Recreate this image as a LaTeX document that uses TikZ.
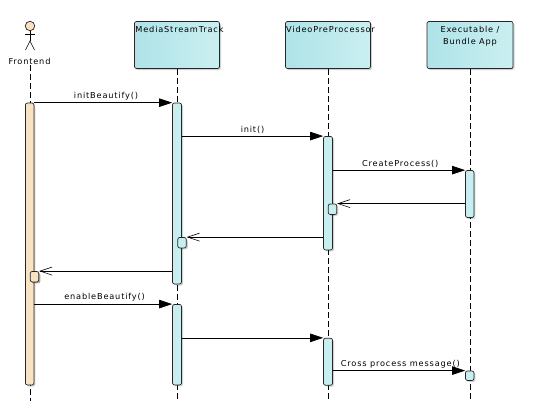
\documentclass[tikz,border=0pt]{standalone}
\usepackage{fontspec}
\setmainfont[LetterSpace=10]{DejaVu Sans}
\usepackage{xcolor}
\usetikzlibrary{positioning, arrows.meta, calc, shadows}
\definecolor{tealleft}{HTML}{AEE3E8}
\definecolor{tealright}{HTML}{CBEFF1}
\definecolor{actbar}{HTML}{C9EEF0}
\definecolor{peachbar}{HTML}{F9E3C5}
\definecolor{peachhead}{HTML}{FBDFBE}
\begin{document}
\begin{tikzpicture}[
        x=1pt, y=-1pt,
        every node/.style={font=\fontsize{8.2}{12}\selectfont},
        softshadow/.style={drop shadow={shadow xshift=1.5pt, shadow yshift=-1.5pt, opacity=.18, fill=black}},
        lifebox/.style={rectangle, draw=black!85, line width=.7pt, rounded corners=2pt, left color=tealleft, right color=tealright,
          minimum width=85pt, minimum height=47pt, inner sep=0pt, softshadow},
        boxtext/.style={anchor=north, inner sep=0pt, yshift=-5pt, align=center},
        widetext/.style={boxtext, xshift=2.5pt},
        bar/.style={rectangle, draw=black!85, line width=.7pt, rounded corners=2pt, fill=actbar, minimum width=9pt, inner sep=0pt, softshadow},
        frontbar/.style={bar, fill=peachbar},
        selfbar/.style={bar, minimum height=10.5pt},
        lifeline/.style={densely dashed, dash pattern=on 6pt off 3pt, line width=.6pt},
        call/.style={-{Triangle[length=13pt,width=8.5pt]}, line width=.7pt},
        reply/.style={-{Straight Barb[length=12pt,width=8pt]}, line width=.6pt},
        msg/.style={above, inner sep=2.5pt}
      ]
      \useasboundingbox (0, 0) rectangle (534, 415);

      \node[circle, draw=black!85, fill=peachhead, line width=.7pt, minimum size=9.5pt, inner sep=0pt] (head) at (30, 26) {};
      \coordinate (neck) at (30, 31);
      \coordinate (hip) at (30, 41);
      \coordinate (armL) at (25, 34.5);
      \coordinate (armR) at (35, 34.5);
      \coordinate (legL) at (25.5, 50);
      \coordinate (legR) at (34.5, 50);
      \draw[line width=.6pt] (head) -- (hip);
      \draw[line width=.6pt] (armL) -- (armR);
      \draw[line width=.6pt] (legL) -- (hip) -- (legR);
      \node[inner sep=0pt] (frontend) at (29.5, 61.5) {Frontend};

      \node[lifebox, label={[widetext]north:MediaStreamTrack}] (media) at (177, 45) {};
      \node[lifebox, label={[widetext]north:VideoPreProcessor}] (video) at (328, 45) {};
      \node[lifebox, minimum width=86pt, label={[boxtext]north:Executable /\\Bundle App}] (exec) at (470, 45) {};

      \coordinate (frontendEnd) at (30.5, 401);
      \coordinate (mediaEnd) at (177.5, 401);
      \coordinate (videoEnd) at (328.5, 401);
      \coordinate (execEnd) at (470.5, 401);
      \draw[lifeline] (frontend.south -| frontendEnd) -- (frontendEnd);
      \draw[lifeline] (media.south -| mediaEnd) -- (mediaEnd);
      \draw[lifeline] (video.south -| videoEnd) -- (videoEnd);
      \draw[lifeline] (exec.south -| execEnd) -- (execEnd);

      \node[frontbar, minimum width=8.5pt, minimum height=282pt] (frontendA) at (29.7, 244) {};
      \node[bar, minimum height=181pt] (mediaA) at (177, 193.5) {};
      \node[bar, minimum height=80.5pt] (mediaB) at (177, 344.7) {};
      \node[bar, minimum height=113.5pt] (videoA) at (328, 193.2) {};
      \node[bar, minimum height=47pt] (videoB) at (328, 361.7) {};
      \node[bar, minimum width=8.5pt, minimum height=47pt] (execA) at (469.7, 194) {};
      \node[bar, minimum width=8.5pt, minimum height=9.5pt] (execB) at (469.7, 375.7) {};

      \node[selfbar, minimum width=8.5pt] (videoSelf) at (332.5, 209.2) {};
      \node[selfbar, minimum width=8.5pt] (mediaSelf) at (182, 242.7) {};
      \node[frontbar, selfbar, fill=peachbar, minimum width=8.5pt] (frontendSelf) at (34.5, 276.7) {};

      \draw[call] (frontendA.north east) -- node[msg, pos=.52] (m1) {initBeautify()} (mediaA.north west);
      \draw[call] (mediaA.east |- videoA.north) -- node[msg, pos=.5] (m2) {init()} (videoA.north west);
      \draw[call] (videoA.east |- execA.north) -- node[msg, pos=.51] (m3) {CreateProcess()} (execA.north west);
      \draw[reply] (execA.west |- videoSelf.north) -- (videoSelf.north east);
      \draw[reply] (videoA.west |- mediaSelf.north) -- (mediaSelf.north east);
      \draw[reply] (mediaA.west |- frontendSelf.north) -- (frontendSelf.north east);
      \draw[call] (frontendA.east |- mediaB.north) -- node[msg, pos=.51] (m4) {enableBeautify()} (mediaB.north west);
      \draw[call] (mediaB.east |- videoB.north) -- (videoB.north west);
      \draw[call] (videoB.east |- execB.north) -- node[msg, pos=.51] (m5) {Cross process message()} (execB.north west);
    \end{tikzpicture}
\end{document}
